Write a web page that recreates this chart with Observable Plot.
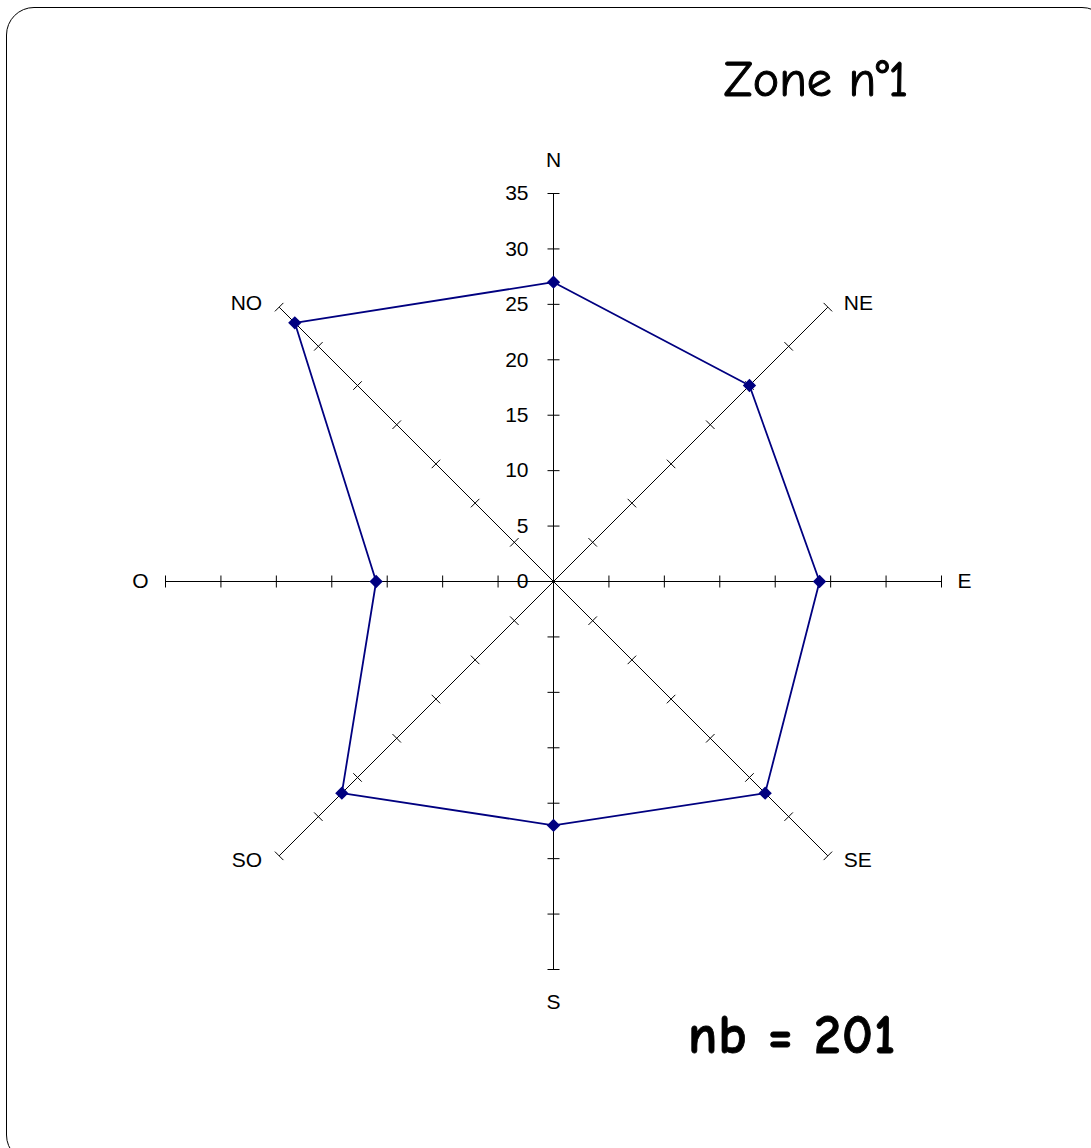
<!DOCTYPE html>
<html>
<head>
<meta charset="utf-8">
<script src="https://cdn.jsdelivr.net/npm/d3@7"></script>
<script src="https://cdn.jsdelivr.net/npm/@observablehq/plot@0.6"></script>
<style>
  html, body { margin: 0; padding: 0; background: #fff; }
  #wrap { position: relative; width: 1091px; height: 1148px; overflow: hidden; background: #fff; }
  #frame { position: absolute; left: 6px; top: 7px; width: 1104px; height: 1156px; border: 1.5px solid #000; border-radius: 28px; box-sizing: border-box; }
  #chart { position: absolute; left: 0; top: 0; }
  .note { position: absolute; line-height: 1; white-space: pre; color: #000;
          font-family: "Comic Sans MS", "Comic Neue", "DejaVu Sans", sans-serif; transform: translateX(-50%); }
  #title { left: 816px; top: 55px; font-size: 50px; -webkit-text-stroke: 1px #000; }
  #count { left: 792px; top: 1009px; font-size: 54px; font-weight: bold; letter-spacing: 1px; -webkit-text-stroke: 0.8px #000; }
</style>
</head>
<body>
<div id="wrap">
  <div id="frame"></div>
  <div id="chart"></div>
  <div class="note" id="title">Zone n°1</div>
  <div class="note" id="count">nb = 201</div>
</div>
<script>
// ---- data ----
const directions = ["N", "NE", "E", "SE", "S", "SO", "O", "NO"];
const values = [27, 25, 24, 27, 22, 27, 16, 33];
const tickValues = [0, 5, 10, 15, 20, 25, 30, 35];
const maxValue = 35;

// ---- geometry ----
const W = 1091, H = 1148, cx = 553, cy = 581, radiusPx = 388;
const k = radiusPx / maxValue; // pixels per unit
const angle = i => (90 - 45 * i) * Math.PI / 180;

const axes = directions.map((d, i) => ({
  dir: d, a: angle(i),
  x2: maxValue * Math.cos(angle(i)), y2: maxValue * Math.sin(angle(i))
}));

const points = directions.map((d, i) => ({
  dir: d, v: values[i],
  x: values[i] * Math.cos(angle(i)), y: values[i] * Math.sin(angle(i))
}));

const t = 6 / k; // half tick length in units
const ticks = [];
axes.forEach(ax => {
  tickValues.filter(v => v > 0).forEach(v => {
    const px = v * Math.cos(ax.a), py = v * Math.sin(ax.a);
    const nx = -Math.sin(ax.a), ny = Math.cos(ax.a);
    ticks.push({x1: px - nx * t, y1: py - ny * t, x2: px + nx * t, y2: py + ny * t});
  });
});

const labels = axes.map(ax => {
  const c = Math.cos(ax.a), s = Math.sin(ax.a);
  const vertical = Math.abs(c) < 0.1;
  return {
    dir: ax.dir, x: ax.x2, y: ax.y2,
    anchor: vertical ? "middle" : (c > 0 ? "start" : "end"),
    dx: vertical ? 0 : (c > 0 ? 16 : -17),
    dy: vertical ? -s * 33 : -s * 6
  };
});

const font = "'Liberation Sans', Arial, sans-serif";

const chart = Plot.plot({
  width: W, height: H,
  margin: 0,
  x: {domain: [-cx / k, (W - cx) / k], axis: null},
  y: {domain: [-(H - cy) / k, cy / k], axis: null},
  style: {background: "transparent", fontFamily: font},
  marks: [
    Plot.link(axes, {x1: 0, y1: 0, x2: "x2", y2: "y2", stroke: "#000", strokeWidth: 1}),
    Plot.link(ticks, {x1: "x1", y1: "y1", x2: "x2", y2: "y2", stroke: "#000", strokeWidth: 1}),
    Plot.text(tickValues, {x: 0, y: d => d, text: d => String(d), textAnchor: "end", dx: -25,
      fontSize: 21, fill: "#000", fontFamily: font}),
    ...labels.map(l => Plot.text([l], {x: "x", y: "y", text: "dir", textAnchor: l.anchor,
      dx: l.dx, dy: l.dy, fontSize: 21, fill: "#000", fontFamily: font})),
    Plot.line(points, {x: "x", y: "y", curve: "linear-closed", stroke: "#000080", strokeWidth: 1.8}),
    Plot.dot(points, {x: "x", y: "y", symbol: "diamond2", r: 6, fill: "#000080", stroke: "none"})
  ]
});
document.getElementById("chart").appendChild(chart);
</script>
</body>
</html>
